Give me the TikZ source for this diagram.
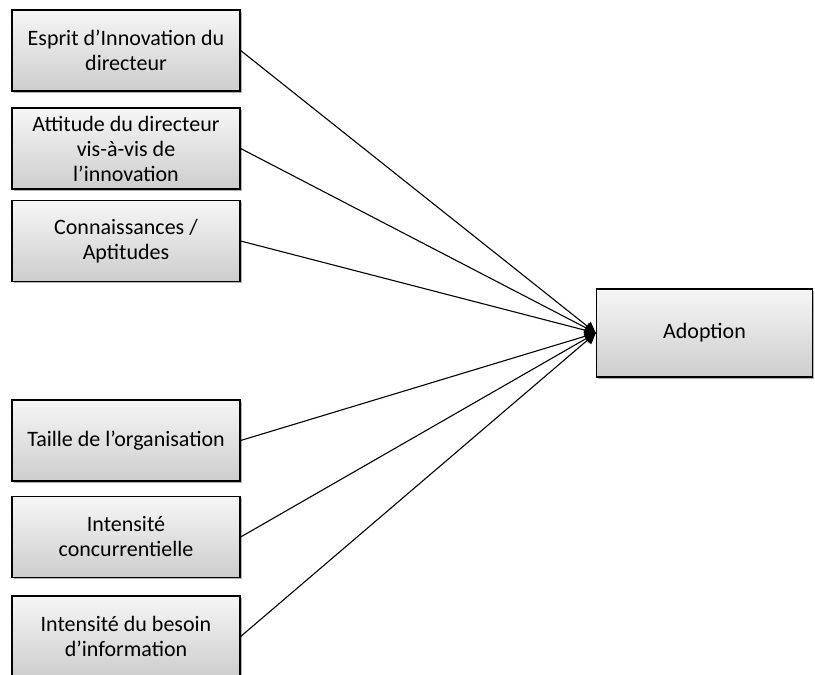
\documentclass[tikz,border=0pt]{standalone}
\usepackage{fontspec}
\setmainfont{Carlito}
\usepackage{tikz}
\usetikzlibrary{arrows.meta,shadows,positioning}
\definecolor{boxtop}{RGB}{246,246,246}
\definecolor{boxbot}{RGB}{205,205,205}

\begin{document}
\begin{tikzpicture}[
  x=1pt, y=-1pt,
  every node/.style={font=\fontsize{22}{25}\selectfont},
  factor/.style={draw=black, line width=1.3pt, top color=boxtop,
                 bottom color=boxbot, minimum width=228pt,
                 minimum height=81pt, align=center, inner sep=2pt,
                 drop shadow={shadow xshift=1.5pt, shadow yshift=-1.5pt,
                              opacity=0.5, fill=black!60}},
  target/.style={factor, minimum width=216pt, minimum height=88pt},
  arrow/.style={-{Triangle[length=11pt, width=11pt]}, line width=1.1pt, black},
]
\useasboundingbox (0,0) rectangle (815,675);

%% ── Factors ───────────────────────────────────────────────────────────────
\node[factor] (INNO) at (126, 50.5)  {Esprit d’Innovation du\\directeur};
\node[factor] (ATT)  at (126, 148.5) {Attitude du directeur\\vis-à-vis de\\l’innovation};
\node[factor] (CONN) at (126, 241)   {Connaissances /\\Aptitudes};
\node[factor] (TAIL) at (126, 440.5) {Taille de l’organisation};
\node[factor] (CONC) at (126, 537)   {Intensité\\concurrentielle};
\node[factor] (INFO) at (126, 636.5) {Intensité du besoin\\d’information};

%% ── Outcome ───────────────────────────────────────────────────────────────
\node[target] (ADOP) at (704.5, 333) {Adoption};

%% ── Links ─────────────────────────────────────────────────────────────────
\foreach \src in {INNO,ATT,CONN,TAIL,CONC,INFO}
  \draw[arrow] (\src.east) -- (ADOP.west);

\end{tikzpicture}
\end{document}
